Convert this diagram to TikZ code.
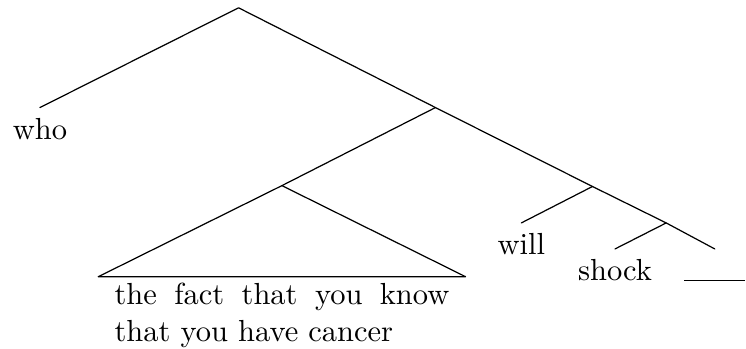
\documentclass[tikz,border=0pt]{standalone}
\usepackage{tikz}
\tikzset{
  tr diagram/.style={line cap=round, line join=round},
  tr edge/.style={draw=black, line width=0.4pt},
  tr leaf/.style={anchor=north, inner sep=3.33pt},
  tr roof text/.style={tr leaf, text width=3.86cm, align=justify,
    inner xsep=0.18cm, inner ysep=2pt}
}

\begin{document}
\begin{tikzpicture}[tr diagram]
\useasboundingbox (0,0) rectangle (8.6,-4.02);
% branching points
\coordinate (root) at (2.75,-0.09);
\coordinate (tp) at (5.02,-1.24);
\coordinate (dp) at (3.25,-2.14);
\coordinate (tbar) at (6.83,-2.15);
\coordinate (vp) at (7.68,-2.57);
% leaves
\node[tr leaf] (who) at (0.46,-1.24) {who};
\node[tr roof text] (fact) at (3.25,-3.19) {the fact that you know that you have cancer};
\node[tr leaf] (will) at (6.01,-2.57) {will};
\node[tr leaf] (shock) at (7.09,-2.87) {shock};
\node[tr leaf] (gap) at (8.24,-2.87) {\vphantom{k}\rule{2em}{0.4pt}};
% edges
\draw[tr edge] (who.north) -- (root) -- (tp) -- (tbar) -- (vp) -- (gap.north);
\draw[tr edge] (tp) -- (dp);
\draw[tr edge] (dp) -- (fact.north west) -- (fact.north east) -- cycle;
\draw[tr edge] (tbar) -- (will.north);
\draw[tr edge] (vp) -- (shock.north);
\end{tikzpicture}
\end{document}
